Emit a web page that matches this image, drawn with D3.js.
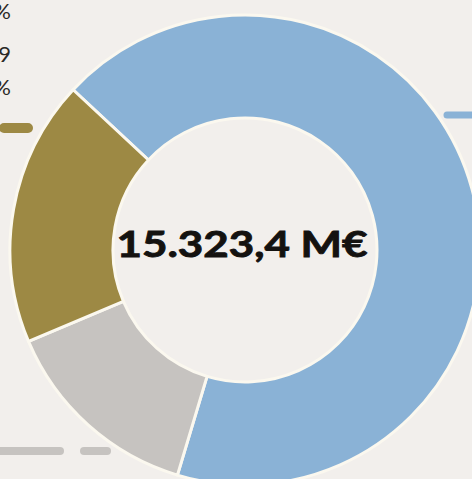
<!DOCTYPE html>
<html>
<head>
<meta charset="utf-8">
<script src="https://cdn.jsdelivr.net/npm/d3@7/dist/d3.min.js"></script>
<style>
  html, body { margin: 0; padding: 0; background: #f2efec; overflow: hidden; }
  svg { display: block; }
</style>
</head>
<body>
<svg id="chart" width="472" height="479"></svg>
<script>
// Budget split (M€), drawn clockwise starting from the blue segment
const categories = ["Bloque A", "Bloque B", "Bloque C"];
const values = [10373.5, 2145.0, 2804.9];
const colors = ["#8ab2d6", "#c6c3c0", "#9d8944"];

// Side legend texts (partially outside the left edge)
const legendLines = ["14,0%", "2.804,9", "18,3%"];

const fmt = v => v.toFixed(1).replace(".", ",").replace(/\B(?=(\d{3})+(?!\d))/g, ".");

const svg = d3.select("#chart");
const cx = 245, cy = 250, rOuter = 235, rInner = 132;

const total = d3.sum(values);
const start = -47 * Math.PI / 180;

const pie = d3.pie().sort(null).value(d => d.v)
  .startAngle(start).endAngle(start + 2 * Math.PI);
const arc = d3.arc().innerRadius(rInner).outerRadius(rOuter);

const data = categories.map((c, i) => ({ c, v: values[i], color: colors[i] }));

const g = svg.append("g").attr("transform", `translate(${cx},${cy})`);
g.selectAll("path")
  .data(pie(data))
  .join("path")
  .attr("d", arc)
  .attr("fill", d => d.data.color)
  .attr("stroke", "#fbf8ef")
  .attr("stroke-width", 3)
  .attr("stroke-linejoin", "round");

// Total in the hole
svg.append("text")
  .attr("x", 242)
  .attr("y", 257)
  .attr("text-anchor", "middle")
  .attr("font-family", "Lato, 'Open Sans', sans-serif")
  .attr("font-weight", 700)
  .attr("font-size", 37)
  .attr("fill", "#141210")
  .attr("stroke", "#141210")
  .attr("stroke-width", 0.9)
  .attr("textLength", 251)
  .attr("lengthAdjust", "spacingAndGlyphs")
  .text(`${fmt(total)} M€`);

// Legend marker dashes
const dashes = [
  { x1: 4, x2: 28, y: 128, w: 10, color: colors[2] },
  { x1: 447, x2: 480, y: 115, w: 7, color: colors[0] },
  { x1: -10, x2: 60, y: 451, w: 8, color: colors[1] },
  { x1: 84, x2: 107, y: 451, w: 8, color: colors[1] }
];
svg.selectAll("line.dash")
  .data(dashes)
  .join("line")
  .attr("class", "dash")
  .attr("x1", d => d.x1).attr("x2", d => d.x2)
  .attr("y1", d => d.y).attr("y2", d => d.y)
  .attr("stroke", d => d.color)
  .attr("stroke-width", d => d.w)
  .attr("stroke-linecap", "round");

// Legend numbers
svg.selectAll("text.leg")
  .data(legendLines)
  .join("text")
  .attr("class", "leg")
  .attr("x", 11)
  .attr("y", (d, i) => [19, 62, 95][i])
  .attr("text-anchor", "end")
  .attr("font-family", "Lato, 'Open Sans', sans-serif")
  .attr("font-size", 22)
  .attr("fill", "#2b2927")
  .text(d => d);
</script>
</body>
</html>
